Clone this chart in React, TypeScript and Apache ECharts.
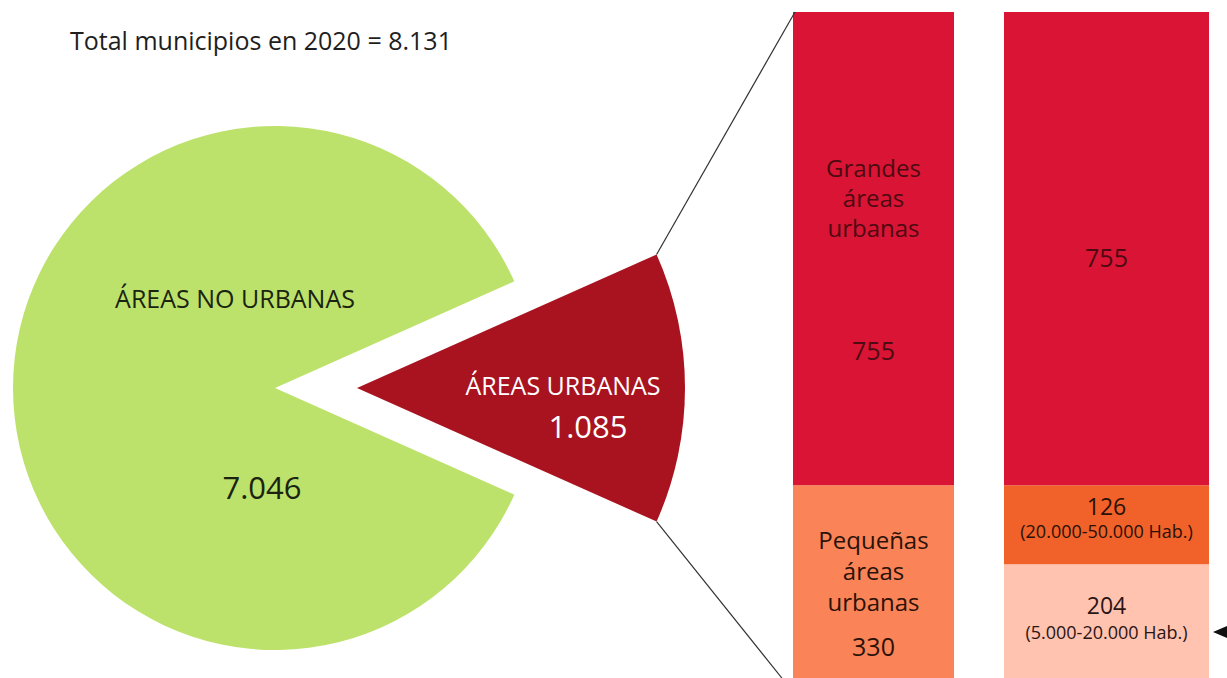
import React, { useEffect, useRef } from "react";
import * as echarts from "echarts";

// ---- data ----
const totalLabel = "Total municipios en 2020 = 8.131";
const pieNames = ["ÁREAS URBANAS", "ÁREAS NO URBANAS"];
const pieValues = [1085, 7046];
const pieValueLabels = ["1.085", "7.046"];

const bar1Names = ["Pequeñas\náreas\nurbanas", "Grandes\náreas\nurbanas"];
const bar1Values = [330, 755];
const bar1ValueLabels = ["330", "755"];

const bar2Names = ["(5.000-20.000 Hab.)", "(20.000-50.000 Hab.)", ""];
const bar2Values = [204, 126, 755];
const bar2ValueLabels = ["204", "126", "755"];

const FONT = "'Open Sans', 'Noto Sans', sans-serif";

export default function App() {
  const ref = useRef<HTMLDivElement>(null);
  useEffect(() => {
    if (!ref.current) return;
    const chart = echarts.init(ref.current, null, { renderer: "svg" });
    const total = pieValues[0] + pieValues[1];
    const half = (pieValues[0] / total) * 180;
    const greenC = [275, 388];
    const redC = [357, 388];
    const greenR = 262;
    const redR = 328;
    const rad = (half * Math.PI) / 180;
    const topPt = [redC[0] + redR * Math.cos(rad), redC[1] - redR * Math.sin(rad)];
    const botPt = [redC[0] + redR * Math.cos(rad), redC[1] + redR * Math.sin(rad)];
    const barTop = 12;
    const barH = 680;
    const barMax = bar1Values[0] + bar1Values[1];

    const barLabelBase = { show: true, position: "inside", fontFamily: FONT };

    chart.setOption({
      animation: false,
      backgroundColor: "#ffffff",
      grid: [
        { left: 793, width: 161, top: barTop, height: barH },
        { left: 1004, width: 205, top: barTop, height: barH },
      ],
      xAxis: [
        { type: "category", gridIndex: 0, data: ["a"], show: false },
        { type: "category", gridIndex: 1, data: ["b"], show: false },
      ],
      yAxis: [
        { type: "value", gridIndex: 0, min: 0, max: barMax, show: false },
        { type: "value", gridIndex: 1, min: 0, max: barMax, show: false },
      ],
      series: [
        {
          type: "pie",
          center: greenC,
          radius: greenR,
          startAngle: half,
          clockwise: true,
          silent: true,
          label: { show: false },
          labelLine: { show: false },
          data: [
            { name: pieNames[0], value: pieValues[0], itemStyle: { color: "rgba(0,0,0,0)" } },
            { name: pieNames[1], value: pieValues[1], itemStyle: { color: "#bde26b" } },
          ],
        },
        {
          type: "pie",
          center: redC,
          radius: redR,
          startAngle: half,
          clockwise: true,
          silent: true,
          label: { show: false },
          labelLine: { show: false },
          data: [
            { name: pieNames[0], value: pieValues[0], itemStyle: { color: "#a8131f" } },
            { name: pieNames[1], value: pieValues[1], itemStyle: { color: "rgba(0,0,0,0)" } },
          ],
        },
        // left bar
        {
          type: "bar",
          xAxisIndex: 0,
          yAxisIndex: 0,
          stack: "l",
          barWidth: "100%",
          data: [bar1Values[0]],
          itemStyle: { color: "#fa8457" },
          label: {
            ...barLabelBase,
            offset: [0, 11],
            formatter: () => `{t|${bar1Names[0]}}\n{v|${bar1ValueLabels[0]}}`,
            rich: {
              t: { fontSize: 24, lineHeight: 31, color: "#2a1208", fontFamily: FONT, align: "center" },
              v: { fontSize: 25, lineHeight: 59, color: "#2a1208", fontFamily: FONT, align: "center" },
            },
          },
        },
        {
          type: "bar",
          xAxisIndex: 0,
          yAxisIndex: 0,
          stack: "l",
          barWidth: "100%",
          data: [bar1Values[1]],
          itemStyle: { color: "#da1434" },
          label: {
            ...barLabelBase,
            offset: [0, 56],
            formatter: () => `{t|${bar1Names[1]}}\n{v|${bar1ValueLabels[1]}}`,
            rich: {
              t: { fontSize: 24, lineHeight: 30, color: "#4d0a12", fontFamily: FONT, align: "center" },
              v: { fontSize: 25, lineHeight: 214, color: "#4d0a12", fontFamily: FONT, align: "center" },
            },
          },
        },
        // right bar
        {
          type: "bar",
          xAxisIndex: 1,
          yAxisIndex: 1,
          stack: "r",
          barWidth: "100%",
          data: [bar2Values[0]],
          itemStyle: { color: "#ffc3b0" },
          label: {
            ...barLabelBase,
            offset: [0, -10],
            formatter: () => `{n|${bar2ValueLabels[0]}}\n{s|${bar2Names[0]}}`,
            rich: {
              n: { fontSize: 23, lineHeight: 28, color: "#2b1512", fontFamily: FONT, align: "center" },
              s: { fontSize: 18, lineHeight: 26, color: "#2b1512", fontFamily: FONT, align: "center" },
            },
          },
        },
        {
          type: "bar",
          xAxisIndex: 1,
          yAxisIndex: 1,
          stack: "r",
          barWidth: "100%",
          data: [bar2Values[1]],
          itemStyle: { color: "#f0622a" },
          label: {
            ...barLabelBase,
            offset: [0, -7],
            formatter: () => `{n|${bar2ValueLabels[1]}}\n{s|${bar2Names[1]}}`,
            rich: {
              n: { fontSize: 23, lineHeight: 26, color: "#2b1005", fontFamily: FONT, align: "center" },
              s: { fontSize: 18, lineHeight: 24, color: "#2b1005", fontFamily: FONT, align: "center" },
            },
          },
        },
        {
          type: "bar",
          xAxisIndex: 1,
          yAxisIndex: 1,
          stack: "r",
          barWidth: "100%",
          data: [bar2Values[2]],
          itemStyle: { color: "#da1434" },
          label: {
            ...barLabelBase,
            offset: [0, 8],
            formatter: () => bar2ValueLabels[2],
            fontSize: 25,
            color: "#4d0a12",
          },
        },
      ],
      graphic: [
        {
          type: "text",
          left: 70,
          top: 27,
          z: 100,
          style: { text: totalLabel, fontSize: 25, fill: "#1e1e1e", fontFamily: FONT },
        },
        {
          type: "text",
          x: 235,
          y: 298,
          z: 100,
          style: { text: pieNames[1], fontSize: 25, fill: "#1a2410", fontFamily: FONT, align: "center", verticalAlign: "middle" },
        },
        {
          type: "text",
          x: 262,
          y: 487,
          z: 100,
          style: { text: pieValueLabels[1], fontSize: 31, fill: "#1a2410", fontFamily: FONT, align: "center", verticalAlign: "middle" },
        },
        {
          type: "text",
          x: 563,
          y: 385,
          z: 100,
          style: { text: pieNames[0], fontSize: 25, fill: "#ffffff", fontFamily: FONT, align: "center", verticalAlign: "middle" },
        },
        {
          type: "text",
          x: 588,
          y: 426,
          z: 100,
          style: { text: pieValueLabels[0], fontSize: 31, fill: "#ffffff", fontFamily: FONT, align: "center", verticalAlign: "middle" },
        },
        {
          type: "line",
          z: 100,
          shape: { x1: topPt[0], y1: topPt[1], x2: 795, y2: barTop },
          style: { stroke: "#333", lineWidth: 1.2 },
        },
        {
          type: "line",
          z: 100,
          shape: { x1: botPt[0], y1: botPt[1], x2: 793, y2: barTop + barH },
          style: { stroke: "#333", lineWidth: 1.2 },
        },
        {
          type: "polygon",
          z: 100,
          shape: { points: [[1213, 632], [1227, 626], [1227, 638]] },
          style: { fill: "#111" },
        },
      ],
    });
    return () => chart.dispose();
  }, []);
  return (
    <div
      ref={ref}
      style={{ position: "fixed", left: 0, top: 0, width: 1227, height: 700, background: "#fff" }}
    />
  );
}
